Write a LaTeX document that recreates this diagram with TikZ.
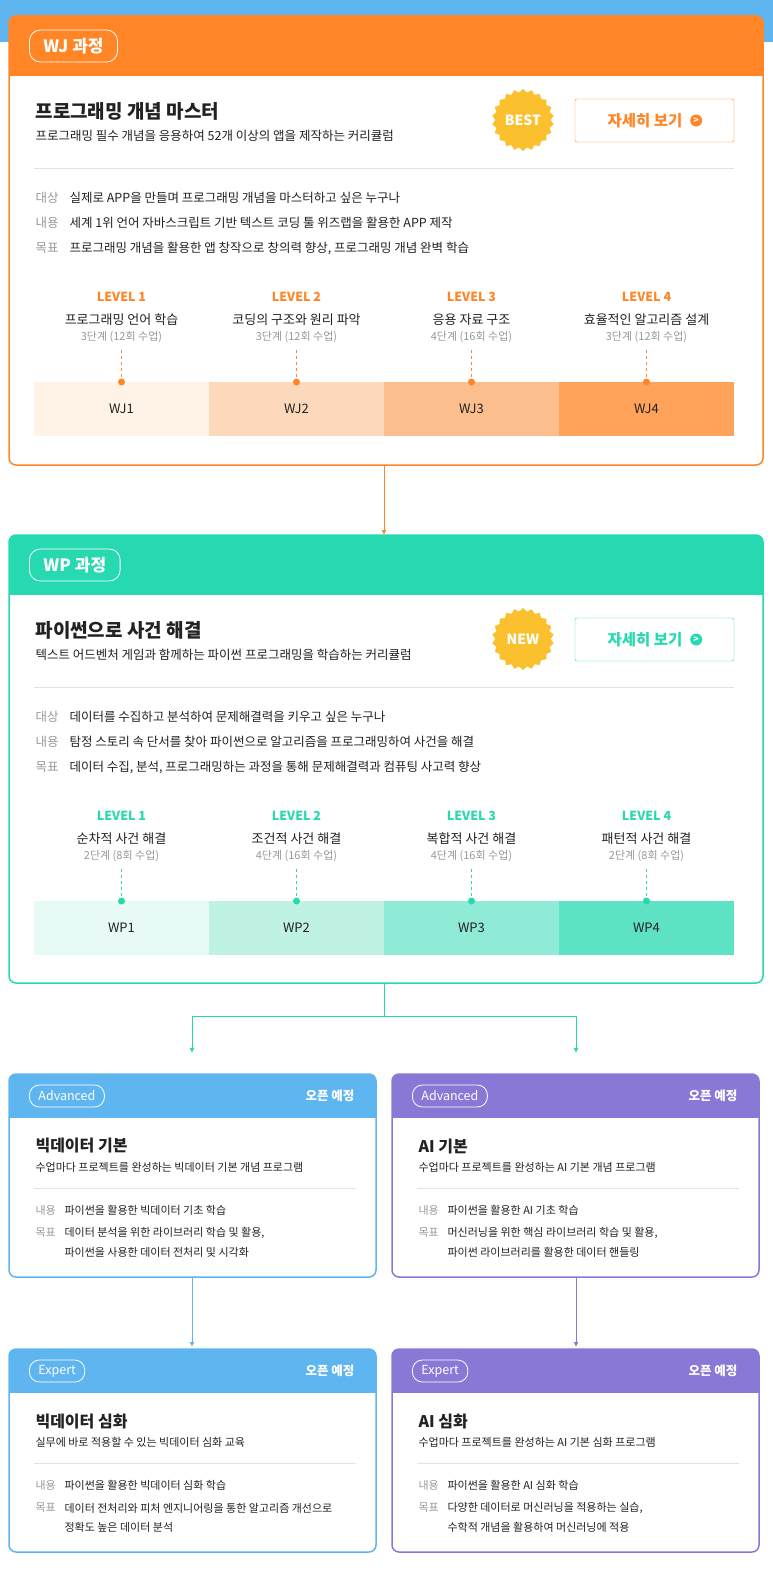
\documentclass[tikz,border=0pt]{standalone}
\usepackage{fontspec}
\setmainfont{Noto Sans CJK KR}
\usetikzlibrary{shapes.geometric,positioning,arrows.meta}

\definecolor{wjorange}{HTML}{FF8526}
\definecolor{wpgreen}{HTML}{26D9B0}
\definecolor{skyblue}{HTML}{5FB5F0}
\definecolor{aipurple}{HTML}{8A78D6}
\definecolor{badge}{HTML}{FBC02D}
\definecolor{ink}{HTML}{222222}
\definecolor{soft}{HTML}{999999}
\definecolor{rule}{HTML}{E3E3E3}
\definecolor{wjA}{HTML}{FFF3E8}
\definecolor{wjB}{HTML}{FDD9BC}
\definecolor{wjC}{HTML}{FDBE8D}
\definecolor{wjD}{HTML}{FFA25A}
\definecolor{wpA}{HTML}{E8FAF5}
\definecolor{wpB}{HTML}{BFF2E3}
\definecolor{wpC}{HTML}{8FEAD6}
\definecolor{wpD}{HTML}{5EE2C4}

% frame of a card: x1 y1 x2 y2 header-bottom colour
\newcommand{\cardframe}[6]{%
  \begin{scope}
    \clip[rounded corners=7] (#1,#2) rectangle (#3,#4);
    \fill[white] (#1,#2) rectangle (#3,#4);
    \fill[#6] (#1,#2) rectangle (#3,#5);
  \end{scope}
  \draw[#6, line width=1.5pt, rounded corners=7] (#1,#2) rectangle (#3,#4);
}

\tikzset{
  pill/.style={draw=white, rounded corners=11, line width=0.8pt, text=white, font=\bfseries, inner xsep=14pt, minimum height=#1, anchor=west},
  pill/.default=32pt,
  rowkey/.style={anchor=west, text=soft, font=\fontsize{12.5}{14}\selectfont},
  rowtxt/.style={anchor=west, text=ink, font=\fontsize{12.5}{14}\selectfont},
  smallkey/.style={anchor=west, text=soft, font=\fontsize{11}{12}\selectfont},
  smalltxt/.style={anchor=west, text=ink, font=\fontsize{11}{12}\selectfont},
  lvl/.style={font=\bfseries\fontsize{12.5}{14}\selectfont},
  lvlname/.style={text=ink, font=\fontsize{13}{14}\selectfont},
  lvlsub/.style={text=soft, font=\fontsize{11}{12}\selectfont},
  barlabel/.style={text=ink, font=\fontsize{13}{14}\selectfont},
  flow/.style={line width=1pt, -{Latex[length=5pt,width=5pt]}},
}

\begin{document}
\begin{tikzpicture}[x=1pt, y=-1pt]
\useasboundingbox (0,0) rectangle (773,1579);
\fill[skyblue] (0,0) rectangle (773,42);

% ---- WJ course
\cardframe{9}{16}{763}{465}{76}{wjorange}
\node[pill, font=\bfseries\fontsize{17}{18}\selectfont] (wjtag) at (29,46) {WJ 과정};
\node[anchor=west, text=ink, font=\bfseries\fontsize{19}{20}\selectfont] (wjtitle) at (32,111) {프로그래밍 개념 마스터};
\node[anchor=west, text=ink, font=\fontsize{12.5}{14}\selectfont] (wjsub) at (32,136) {프로그래밍 필수 개념을 응용하여 52개 이상의 앱을 제작하는 커리큘럼};
\node[star, star points=22, star point ratio=1.12, fill=badge, minimum size=62pt, inner sep=0pt] (wjbadge) at (523,120) {};
\node[text=white, font=\bfseries\fontsize{14}{16}\selectfont] at (wjbadge) {BEST};
\draw[wjorange, rounded corners=2] (575,99) rectangle (734,142);
\node[text=wjorange, font=\bfseries\fontsize{15.5}{17}\selectfont] (wjmore) at (645,120.5) {자세히 보기};
\node[circle, fill=wjorange, text=white, inner sep=0pt, minimum size=12pt, font=\bfseries\fontsize{9}{9}\selectfont, right=4pt of wjmore] {>};
\draw[rule] (34,168) -- (734,168);
\node[rowkey] at (32,198) {대상}; \node[rowtxt] at (66,198) {실제로 APP을 만들며 프로그래밍 개념을 마스터하고 싶은 누구나};
\node[rowkey] at (32,223) {내용}; \node[rowtxt] at (66,223) {세계 1위 언어 자바스크립트 기반 텍스트 코딩 툴 위즈랩을 활용한 APP 제작};
\node[rowkey] at (32,248) {목표}; \node[rowtxt] at (66,248) {프로그래밍 개념을 활용한 앱 창작으로 창의력 향상, 프로그래밍 개념 완벽 학습};
\foreach \i/\c/\nm/\sb in {1/wjA/프로그래밍 언어 학습/3단계 (12회 수업),
                           2/wjB/코딩의 구조와 원리 파악/3단계 (12회 수업),
                           3/wjC/응용 자료 구조/4단계 (16회 수업),
                           4/wjD/효율적인 알고리즘 설계/3단계 (12회 수업)} {
  \fill[\c] ({34+175*(\i-1)},382) rectangle ({34+175*\i},436);
  \node[barlabel] (wj\i) at ({121.5+175*(\i-1)},409) {WJ\i};
  \node[lvl, text=wjorange] at ({121.5+175*(\i-1)},297) {LEVEL \i};
  \node[lvlname] at ({121.5+175*(\i-1)},320) {\nm};
  \node[lvlsub] at ({121.5+175*(\i-1)},337) {\sb};
  \draw[wjorange, dashed] ({121.5+175*(\i-1)},350) -- ({121.5+175*(\i-1)},382);
  \fill[wjorange] ({121.5+175*(\i-1)},382) circle (3.5pt);
}
\coordinate (wjbot) at (384,465);
\coordinate (wptop) at (384,535);
\draw[wjorange, flow] (wjbot) -- (wptop);

% ---- WP course
\cardframe{9}{535}{763}{983}{595}{wpgreen}
\node[pill, font=\bfseries\fontsize{17}{18}\selectfont] (wptag) at (29,565) {WP 과정};
\node[anchor=west, text=ink, font=\bfseries\fontsize{19}{20}\selectfont] (wptitle) at (32,630) {파이썬으로 사건 해결};
\node[anchor=west, text=ink, font=\fontsize{12.5}{14}\selectfont] (wpsub) at (32,655) {텍스트 어드벤처 게임과 함께하는 파이썬 프로그래밍을 학습하는 커리큘럼};
\node[star, star points=22, star point ratio=1.12, fill=badge, minimum size=62pt, inner sep=0pt] (wpbadge) at (523,639) {};
\node[text=white, font=\bfseries\fontsize{14}{16}\selectfont] at (wpbadge) {NEW};
\draw[wpgreen, rounded corners=2] (575,618) rectangle (734,661);
\node[text=wpgreen, font=\bfseries\fontsize{15.5}{17}\selectfont] (wpmore) at (645,639.5) {자세히 보기};
\node[circle, fill=wpgreen, text=white, inner sep=0pt, minimum size=12pt, font=\bfseries\fontsize{9}{9}\selectfont, right=4pt of wpmore] {>};
\draw[rule] (34,687) -- (734,687);
\node[rowkey] at (32,717) {대상}; \node[rowtxt] at (66,717) {데이터를 수집하고 분석하여 문제해결력을 키우고 싶은 누구나};
\node[rowkey] at (32,742) {내용}; \node[rowtxt] at (66,742) {탐정 스토리 속 단서를 찾아 파이썬으로 알고리즘을 프로그래밍하여 사건을 해결};
\node[rowkey] at (32,767) {목표}; \node[rowtxt] at (66,767) {데이터 수집, 분석, 프로그래밍하는 과정을 통해 문제해결력과 컴퓨팅 사고력 향상};
\foreach \i/\c/\nm/\sb in {1/wpA/순차적 사건 해결/2단계 (8회 수업),
                           2/wpB/조건적 사건 해결/4단계 (16회 수업),
                           3/wpC/복합적 사건 해결/4단계 (16회 수업),
                           4/wpD/패턴적 사건 해결/2단계 (8회 수업)} {
  \fill[\c] ({34+175*(\i-1)},901) rectangle ({34+175*\i},955);
  \node[barlabel] (wp\i) at ({121.5+175*(\i-1)},928) {WP\i};
  \node[lvl, text=wpgreen] at ({121.5+175*(\i-1)},816) {LEVEL \i};
  \node[lvlname] at ({121.5+175*(\i-1)},839) {\nm};
  \node[lvlsub] at ({121.5+175*(\i-1)},856) {\sb};
  \draw[wpgreen, dashed] ({121.5+175*(\i-1)},869) -- ({121.5+175*(\i-1)},901);
  \fill[wpgreen] ({121.5+175*(\i-1)},901) circle (3.5pt);
}
\coordinate (wpbot) at (384,983);
\coordinate (split) at (384,1016);
\coordinate (bdtop) at (192,1053);
\coordinate (aitop) at (576,1053);
\draw[wpgreen, line width=1pt] (wpbot) -- (split);
\draw[wpgreen, flow] (split) -| (bdtop);
\draw[wpgreen, flow] (split) -| (aitop);

% ---- Advanced / Expert cards
\foreach \x/\c/\ttl/\sb/\nr/\ga/\gb/\y/\tag in {
  9/skyblue/빅데이터 기본/수업마다 프로젝트를 완성하는 빅데이터 기본 개념 프로그램/파이썬을 활용한 빅데이터 기초 학습/{데이터 분석을 위한 라이브러리 학습 및 활용,}/파이썬을 사용한 데이터 전처리 및 시각화/1074/Advanced,
  392/aipurple/AI 기본/수업마다 프로젝트를 완성하는 AI 기본 개념 프로그램/파이썬을 활용한 AI 기초 학습/{머신러닝을 위한 핵심 라이브러리 학습 및 활용,}/파이썬 라이브러리를 활용한 데이터 핸들링/1074/Advanced,
  9/skyblue/빅데이터 심화/실무에 바로 적용할 수 있는 빅데이터 심화 교육/파이썬을 활용한 빅데이터 심화 학습/데이터 전처리와 피처 엔지니어링을 통한 알고리즘 개선으로/정확도 높은 데이터 분석/1349/Expert,
  392/aipurple/AI 심화/수업마다 프로젝트를 완성하는 AI 기본 심화 프로그램/파이썬을 활용한 AI 심화 학습/{다양한 데이터로 머신러닝을 적용하는 실습,}/수학적 개념을 활용하여 머신러닝에 적용/1349/Expert} {
  \cardframe{\x}{\y}{\x+367}{\y+203}{\y+44}{\c}
  \node[pill=22pt, font=\fontsize{12.5}{14}\selectfont, rounded corners=10, inner xsep=9pt] at (\x+20,\y+22) {\tag};
  \node[anchor=east, text=white, font=\bfseries\fontsize{12.5}{14}\selectfont] at (\x+349,\y+22) {오픈 예정};
  \node[anchor=west, text=ink, font=\bfseries\fontsize{16}{17}\selectfont] at (\x+23,\y+72) {\ttl};
  \node[smalltxt] at (\x+23,\y+93) {\sb};
  \draw[rule] (\x+25,\y+114) -- (\x+347,\y+114);
  \node[smallkey] at (\x+23,\y+136) {내용}; \node[smalltxt] at (\x+52,\y+136) {\nr};
  \node[smallkey] at (\x+23,\y+159) {목표}; \node[smalltxt] at (\x+52,\y+159) {\ga};
  \node[smalltxt] at (\x+52,\y+178) {\gb};
}
\coordinate (bdbot) at (192,1277);
\coordinate (bdexp) at (192,1347);
\coordinate (aibot) at (576,1277);
\coordinate (aiexp) at (576,1347);
\draw[skyblue, flow] (bdbot) -- (bdexp);
\draw[aipurple, flow] (aibot) -- (aiexp);
\end{tikzpicture}
\end{document}
